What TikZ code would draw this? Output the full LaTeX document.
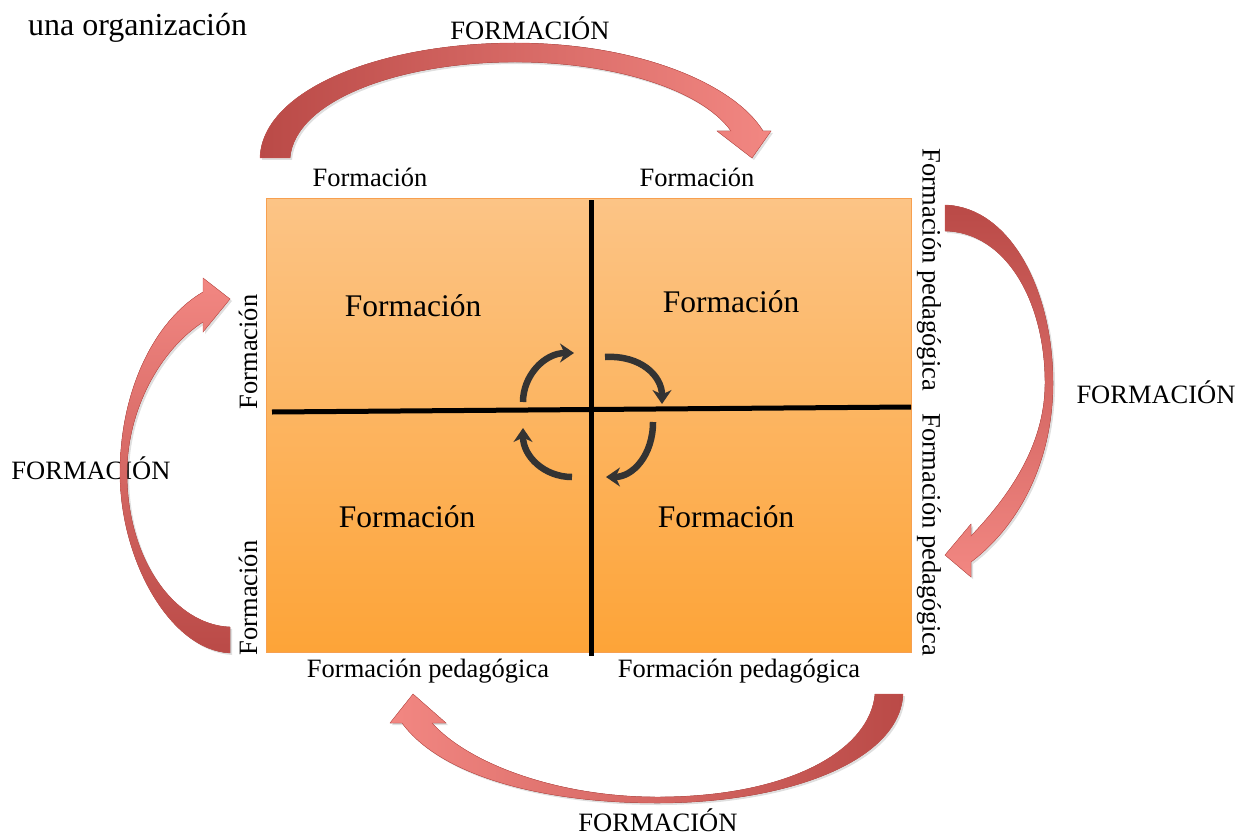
\documentclass[tikz,border=0pt]{standalone}
\usepackage{fontspec}
\setmainfont{Liberation Serif}
\usepackage{tikz}
\usetikzlibrary{arrows.meta, shadows, positioning}

\definecolor{boxtop}{RGB}{252,196,134}
\definecolor{boxbot}{RGB}{253,164,56}
\definecolor{boxedge}{RGB}{247,160,80}
\definecolor{arrdark}{RGB}{186,74,71}
\definecolor{arrlight}{RGB}{242,135,130}
\definecolor{arredge}{RGB}{205,85,80}

\begin{document}
\begin{tikzpicture}[x=1pt, y=-1pt,
			lbl/.style  = {font=\fontsize{26.5}{30}\selectfont, inner sep=0pt},
			cell/.style = {font=\fontsize{31.5}{34}\selectfont, inner sep=0pt},
			big/.style  = {draw=arredge, thin, drop shadow={opacity=0.25, shadow xshift=2pt, shadow yshift=-2pt}},
			cyc/.style  = {line width=6.5pt, draw=black!80, -{Stealth[length=14pt, width=19pt]}},
			cross/.style = {line width=5pt, draw=black},
			>=latex]
			
			\useasboundingbox (0,0) rectangle (1238,837);
			
			% the square and its quarters
			\node[draw=boxedge, thin, top color=boxtop, bottom color=boxbot,
			minimum width=645pt, minimum height=454pt, inner sep=0pt] (box) at (588.5,425) {};
			\draw[cross] (591,200) -- (591,656);
			\draw[cross] (272,412) -- (911,407);
			
			\foreach \x/\y/\n in {413/306/q1, 731/302/q2, 407/517/q3, 726/517/q4}
			\node[cell] (\n) at (\x,\y) {Formación};
			
			% labels round the square
			\node[lbl, font=\fontsize{32}{36}\selectfont, anchor=west] (org) at (28,28) {una organización};
			\node[lbl] (t1) at (370,177) {Formación};
			\node[lbl] (t2) at (697,177) {Formación};
			\node[lbl] (b1) at (428,671) {Formación pedagógica};
			\node[lbl] (b2) at (739,671) {Formación pedagógica};
			\node[lbl, rotate=90] (l1) at (248,352) {Formación};
			\node[lbl, rotate=90] (l2) at (248,598) {Formación};
			\node[lbl, rotate=-90] (r1) at (929,270) {Formación pedagógica};
			\node[lbl, rotate=-90] (r2) at (929,535) {Formación pedagógica};
			
			\foreach \x/\y/\n in {530/28/F1, 1156/392/F2, 658/820/F3, 91/468/F4}
			\node[lbl] (\n) at (\x,\y) {FORMACIÓN};
			
			% big curved arrows
			\fill[big, left color=arrdark, right color=arrlight]
			(260,158) .. controls (262,90) and (380,43) .. (515,43)
			.. controls (640,43) and (735,85) .. (763,131)
			-- (771,131) -- (752,158) -- (717,131) -- (731,131)
			.. controls (700,88) and (610,62) .. (515,62)
			.. controls (400,62) and (295,100) .. (290,158) -- cycle;
			
			\fill[big, top color=arrdark, bottom color=arrlight]
			(945,205) .. controls (1010,207) and (1053,290) .. (1053,383)
			.. controls (1053,460) and (1020,525) .. (971,562)
			-- (971,577) -- (945,555) -- (971,524) -- (971,536)
			.. controls (1015,490) and (1045,440) .. (1045,383)
			.. controls (1045,300) and (1005,232) .. (945,231) -- cycle;
			
			\fill[big, right color=arrdark, left color=arrlight]
			(903,694) .. controls (900,760) and (790,803) .. (657,803)
			.. controls (540,803) and (440,775) .. (402,723)
			-- (390,723) -- (413,694) -- (446,723) -- (432,723)
			.. controls (470,765) and (560,797) .. (657,797)
			.. controls (790,797) and (870,750) .. (875,694) -- cycle;
			
			\fill[big, bottom color=arrdark, top color=arrlight]
			(230,653) .. controls (170,650) and (120,560) .. (120,473)
			.. controls (120,390) and (155,320) .. (203,292)
			-- (203,278) -- (230,299) -- (203,332) -- (203,322)
			.. controls (160,350) and (127,410) .. (127,473)
			.. controls (127,560) and (175,625) .. (230,627) -- cycle;
			
			% small cycle arrows in the middle
			\draw[cyc] (523,402) .. controls (523,376) and (544,353) .. (574,353);
			\draw[cyc] (605,357) .. controls (641,355) and (662,376) .. (662,404);
			\draw[cyc] (653,422) .. controls (653,455) and (633,477) .. (606,477);
			\draw[cyc] (572,477) .. controls (544,477) and (523,456) .. (523,428);
		\end{tikzpicture}
\end{document}
